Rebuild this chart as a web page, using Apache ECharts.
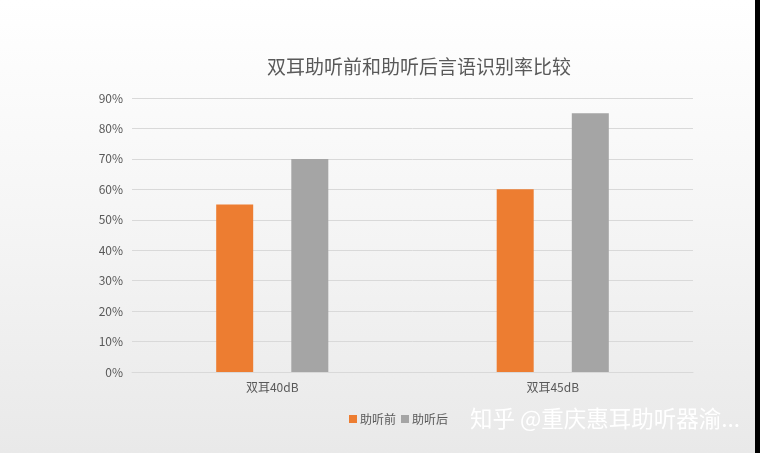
<!DOCTYPE html>
<html>
<head>
<meta charset="utf-8">
<script src="https://cdn.jsdelivr.net/npm/echarts@6/dist/echarts.min.js"></script>
<style>
  html, body { margin: 0; padding: 0; }
  #chart { width: 760px; height: 453px; }
</style>
</head>
<body>
<div id="chart"></div>
<script>
// 数据
const categories = ["双耳40dB", "双耳45dB"];
const beforeValues = [55, 60]; // 助听前
const afterValues = [70, 85]; // 助听后
const seriesNames = ["助听前", "助听后"];

const chart = echarts.init(document.getElementById("chart"));
const font = '"Noto Sans CJK SC", sans-serif';

const option = {
  backgroundColor: new echarts.graphic.LinearGradient(0, 0, 0, 1, [
    { offset: 0, color: "#ffffff" },
    { offset: 0.45, color: "#f6f6f6" },
    { offset: 1, color: "#e9e9e9" },
  ]),
  color: ["#ED7D31", "#A5A5A5"],
  title: {
    text: "双耳助听前和助听后言语识别率比较",
    left: 414,
    top: 52,
    textAlign: "center",
    textStyle: { fontFamily: font, fontSize: 19, fontWeight: "normal", color: "#595959" },
  },
  legend: {
    data: seriesNames,
    left: 344,
    top: 408,
    itemWidth: 8,
    itemHeight: 8,
    itemGap: 5,
    icon: "rect",
    textStyle: { fontFamily: font, fontSize: 12, color: "#595959", padding: [0, 0, 0, -2] },
  },
  grid: { left: 132, right: 67, top: 98, bottom: 81 },
  xAxis: {
    type: "category",
    data: categories,
    axisTick: { show: false },
    axisLine: { lineStyle: { color: "#d9d9d9" } },
    axisLabel: { fontFamily: font, fontSize: 12, color: "#595959", margin: 9 },
  },
  yAxis: {
    type: "value",
    min: 0,
    max: 90,
    interval: 10,
    axisLine: { show: false },
    axisTick: { show: false },
    splitLine: { lineStyle: { color: "#d9d9d9" } },
    axisLabel: {
      fontFamily: font,
      fontSize: 12,
      color: "#595959",
      margin: 9,
      formatter: "{value}%",
    },
  },
  series: [
    {
      name: seriesNames[0],
      type: "bar",
      data: beforeValues,
      barWidth: 37,
      barGap: "103%",
    },
    {
      name: seriesNames[1],
      type: "bar",
      data: afterValues,
      barWidth: 37,
    },
  ],
  graphic: [
    {
      type: "text",
      left: 470,
      top: 407,
      style: {
        text: "知乎 @重庆惠耳助听器渝...",
        font: '22.5px "Noto Sans CJK SC"',
        fill: "#ffffff",
        shadowColor: "rgba(0,0,0,0.55)",
        shadowBlur: 2,
        shadowOffsetX: 0,
        shadowOffsetY: 0,
      },
    },
    {
      type: "rect",
      right: 0,
      top: 0,
      shape: { width: 5, height: 453 },
      style: { fill: "#000000" },
    },
  ],
};

chart.setOption(option);
</script>
</body>
</html>
